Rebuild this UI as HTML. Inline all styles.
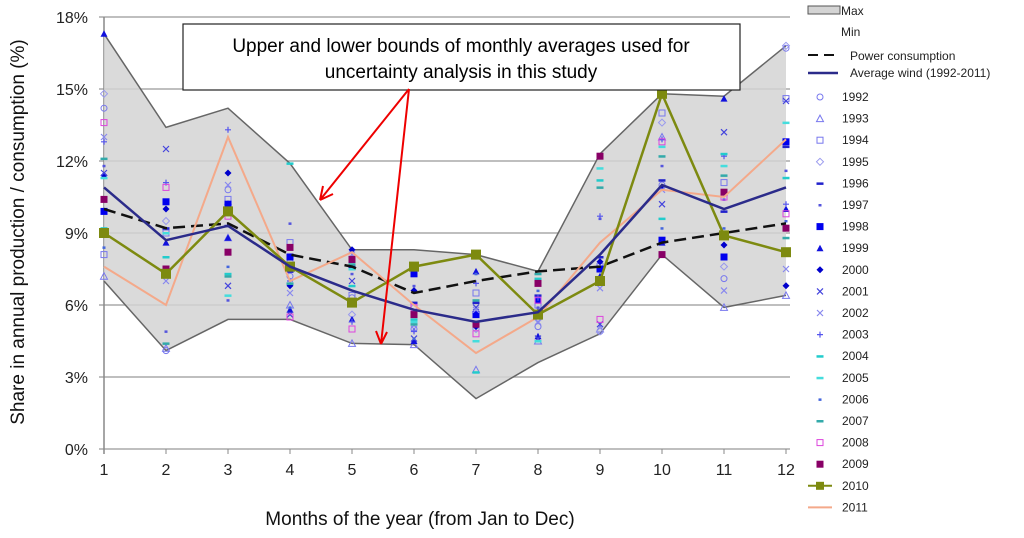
<!DOCTYPE html>
<html><head><meta charset="utf-8"><style>
body{margin:0;background:#fff;font-family:"Liberation Sans",sans-serif}
svg text{font-family:"Liberation Sans",sans-serif}
</style></head><body>
<svg id="c" width="1024" height="533"></svg>
<script>
const months=[1,2,3,4,5,6,7,8,9,10,11,12];
const yTicks=[0,3,6,9,12,15,18];
const maxVals=[17.3,13.4,14.2,11.9,8.3,8.3,8.1,7.4,12.3,14.8,14.7,16.8];
const minVals=[7.0,4.1,5.4,5.4,4.4,4.35,2.1,3.6,4.8,8.1,5.9,6.4];
const powerVals=[10.0,9.2,9.4,8.1,7.6,6.5,7.0,7.4,7.6,8.6,9.0,9.4];
const avgVals=[10.9,8.7,9.3,7.6,6.6,5.8,5.3,5.7,8.1,11.0,10.0,10.9];
const y2010=[9.0,7.3,9.9,7.6,6.1,7.6,8.1,5.6,7.0,14.8,8.9,8.2];
const y2011=[7.6,6.0,13.0,7.0,8.2,6.0,4.0,5.5,8.6,10.8,10.5,12.9];
const years=['1992','1993','1994','1995','1996','1997','1998','1999','2000','2001','2002','2003','2004','2005','2006','2007','2008','2009'];
const yearVals=[
[14.2,4.1,10.8,7.2,6.3,5.0,5.2,5.1,4.9,11.0,7.1,16.7],
[7.2,4.2,8.8,6.0,4.4,4.35,3.3,4.5,5.0,13.0,5.9,6.4],
[8.1,9.0,10.4,8.6,6.4,5.6,6.5,6.0,7.6,14.0,11.1,14.6],
[14.8,9.5,10.2,7.8,5.6,5.9,5.0,5.4,4.9,13.6,7.6,16.8],
[10.0,9.2,9.3,7.4,7.6,6.1,6.1,6.4,8.0,11.2,9.9,12.6],
[11.8,4.9,6.2,9.4,7.3,6.8,5.6,5.9,9.6,11.8,10.4,11.6],
[9.9,10.3,10.2,8.0,7.9,7.3,5.6,6.2,7.5,8.7,8.0,12.8],
[17.3,8.6,8.8,5.8,5.4,4.5,7.4,4.7,7.2,8.6,14.6,10.0],
[11.4,10.0,11.5,6.8,8.3,6.6,5.1,5.7,7.8,10.9,8.5,6.8],
[11.5,12.5,6.8,5.6,7.0,4.6,5.9,4.6,5.2,10.2,13.2,14.5],
[13.0,7.0,11.0,6.5,8.1,5.0,5.8,5.3,6.7,10.8,6.6,7.5],
[12.8,11.1,13.3,7.0,5.3,4.9,6.9,6.3,9.7,12.9,12.2,10.2],
[9.2,8.0,7.3,11.9,6.8,5.4,3.2,7.1,11.2,9.6,12.3,11.3],
[11.3,9.0,6.4,6.9,7.5,5.3,4.5,4.5,11.7,12.6,11.8,13.6],
[8.4,7.5,7.6,5.9,6.2,4.6,7.3,6.6,6.9,9.2,9.2,9.5],
[12.1,4.4,7.2,6.9,7.7,5.2,6.2,7.3,10.9,12.2,11.4,8.8],
[13.6,10.9,9.7,5.5,5.0,5.9,4.8,6.2,5.4,12.8,10.5,9.8],
[10.4,7.5,8.2,8.4,7.9,5.6,5.2,6.9,12.2,8.1,10.7,9.2]];
const yearColors=['#7777ee','#7777ee','#7777ee','#9999ee','#2222cc','#5555dd','#0000ee','#1111dd','#0000cc','#4444dd','#8888ee','#5555ee','#22cccc','#44dddd','#4466dd','#33aaaa','#dd44dd','#880066'];
const yearShapes=['circle','tri','square','diamond','dash','dot','fsquare','ftri','fdiamond','x','x','plus','dash','dash','dot','dash','square','fsquare'];
const NS='http://www.w3.org/2000/svg';
const svg=document.getElementById('c');
function el(t,a,p){const e=document.createElementNS(NS,t);for(const k in a)e.setAttribute(k,a[k]);(p||svg).appendChild(e);return e;}
const X=m=>104+(m-1)*62, Y=v=>449-v*24;
// gridlines
yTicks.forEach(t=>{const g=el('line',{x1:99,x2:790,y1:Y(t),y2:Y(t),stroke:'#aaa','stroke-width':1.5});


const tx=el('text',{x:88,y:Y(t)+6,'text-anchor':'end','font-size':16,fill:'#222'});tx.textContent=t+'%';

});
el('line',{x1:104,x2:104,y1:17,y2:454,stroke:'#888','stroke-width':1.5});
months.forEach(m=>{el('line',{x1:X(m),x2:X(m),y1:449,y2:454,stroke:'#888'});
const tx=el('text',{x:X(m),y:475,'text-anchor':'middle','font-size':16,fill:'#222'});tx.textContent=m;

});
// band
let d='M'+months.map((m,i)=>X(m)+','+Y(maxVals[i])).join(' L')+' L'+months.slice().reverse().map((m,i)=>X(m)+','+Y(minVals[11-i])).join(' L')+'Z';
const band=el('path',{d:d,fill:'#d4d4d4','fill-opacity':0.85});


function line(vals,attrs,name){const p=el('polyline',Object.assign({points:months.map((m,i)=>X(m)+','+Y(vals[i])).join(' '),fill:'none'},attrs));

return p;}
line(maxVals,{stroke:'#666','stroke-width':1.5},'max-line');
line(minVals,{stroke:'#666','stroke-width':1.5},'min-line');
function marker(x,y,s,c,g){
 if(s==='circle')return el('circle',{cx:x,cy:y,r:3,fill:'none',stroke:c},g);
 if(s==='tri')return el('path',{d:`M${x},${y-3.5}L${x+3.5},${y+3}L${x-3.5},${y+3}Z`,fill:'none',stroke:c},g);
 if(s==='ftri')return el('path',{d:`M${x},${y-3.5}L${x+3.5},${y+3}L${x-3.5},${y+3}Z`,fill:c},g);
 if(s==='square')return el('rect',{x:x-3,y:y-3,width:6,height:6,fill:'none',stroke:c},g);
 if(s==='fsquare')return el('rect',{x:x-3.5,y:y-3.5,width:7,height:7,fill:c},g);
 if(s==='diamond')return el('path',{d:`M${x},${y-3.5}L${x+3.5},${y}L${x},${y+3.5}L${x-3.5},${y}Z`,fill:'none',stroke:c},g);
 if(s==='fdiamond')return el('path',{d:`M${x},${y-3.5}L${x+3.5},${y}L${x},${y+3.5}L${x-3.5},${y}Z`,fill:c},g);
 if(s==='dash')return el('rect',{x:x-3.5,y:y-1,width:7,height:2.5,fill:c},g);
 if(s==='dot')return el('rect',{x:x-1.5,y:y-1,width:3,height:2.5,fill:c},g);
 if(s==='x')return el('path',{d:`M${x-3},${y-3}L${x+3},${y+3}M${x+3},${y-3}L${x-3},${y+3}`,stroke:c,'stroke-width':1.2},g);
 if(s==='plus')return el('path',{d:`M${x-3},${y}L${x+3},${y}M${x},${y-3}L${x},${y+3}`,stroke:c,'stroke-width':1.2},g);
}
yearVals.forEach((vals,k)=>{const g=el('g',{});


vals.forEach((v,i)=>marker(X(months[i]),Y(v),yearShapes[k],yearColors[k],g));});
line(powerVals,{stroke:'#111','stroke-width':2.5,'stroke-dasharray':'12,6'},'power-consumption-line');
line(y2011,{stroke:'#f4a98a','stroke-width':2},'series-2011-line');
line(y2010,{stroke:'#7d8a10','stroke-width':2.5},'series-2010-line');
const g10=el('g',{});
y2010.forEach((v,i)=>el('rect',{x:X(months[i])-5,y:Y(v)-5,width:10,height:10,fill:'#7d8a10'},g10));
line(avgVals,{stroke:'#2b2b8a','stroke-width':2.5},'average-wind-line');
// annotation
const box=el('rect',{x:183,y:24,width:557,height:66,fill:'#fff',stroke:'#222','stroke-width':1.2});

const t1=el('text',{x:461,y:52,'text-anchor':'middle','font-size':19,fill:'#000'});t1.textContent='Upper and lower bounds of monthly averages used for';

const t2=el('text',{x:461,y:78,'text-anchor':'middle','font-size':19,fill:'#000'});t2.textContent='uncertainty analysis in this study';

const ar=el('g',{stroke:'#e00','stroke-width':2,fill:'none'});
el('path',{d:'M409,89 L320,200 M320,200 L323,186 M320,200 L333,194'},ar);
el('path',{d:'M409,89 L381,344 M381,344 L376,331 M381,344 L387,332'},ar);
// axis titles
const xt=el('text',{x:420,y:525,'text-anchor':'middle','font-size':19,fill:'#111'});xt.textContent='Months of the year (from Jan to Dec)';

const yt=el('text',{transform:'translate(24,232) rotate(-90)','text-anchor':'middle','font-size':19,fill:'#111'});yt.textContent='Share in annual production / consumption (%)';

// legend
const lg=el('g',{});
el('rect',{x:808,y:6,width:32,height:8,fill:'#d4d4d4',stroke:'#555'},lg);
function lt(x,y,s,fs){const t=el('text',{x:x,y:y,'font-size':fs||12,fill:'#222'},lg);t.textContent=s;
}
lt(841,15,'Max');lt(841,36,'Min');
el('line',{x1:808,x2:838,y1:55,y2:55,stroke:'#111','stroke-width':2,'stroke-dasharray':'10,6'},lg);lt(850,60,'Power consumption');
el('line',{x1:808,x2:838,y1:73,y2:73,stroke:'#2b2b8a','stroke-width':2.5},lg);lt(850,77,'Average wind (1992-2011)');
years.forEach((yr,k)=>{const yy=97+k*21.6;marker(820,yy,yearShapes[k],yearColors[k],lg);lt(842,yy+4,yr);});
let yy=97+18*21.6;el('line',{x1:808,x2:832,y1:yy,y2:yy,stroke:'#7d8a10','stroke-width':2},lg);el('rect',{x:816,y:yy-4,width:8,height:8,fill:'#7d8a10'},lg);lt(842,yy+4,'2010');
yy+=21.6;el('line',{x1:808,x2:832,y1:yy,y2:yy,stroke:'#f4a98a','stroke-width':2},lg);lt(842,yy+4,'2011');
</script>
</body></html>
